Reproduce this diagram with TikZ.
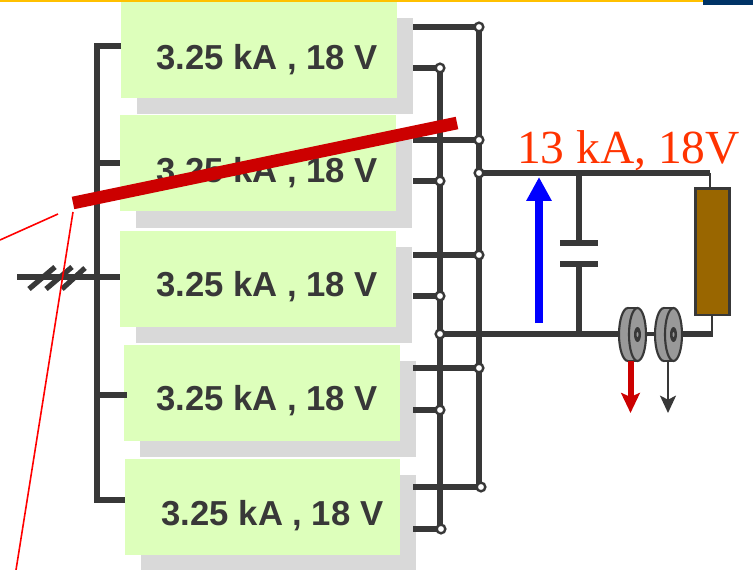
\documentclass[tikz,border=0pt]{standalone}
\usepackage{fontspec}
\setmainfont{Liberation Sans}
\newfontfamily\serifface{Liberation Serif}
\usetikzlibrary{arrows.meta,calc}
\definecolor{dark}{HTML}{383838}
\definecolor{cellgreen}{HTML}{DDFFBB}
\definecolor{shadowgrey}{HTML}{D9D9D9}
\definecolor{barred}{HTML}{CC0000}
\definecolor{brownr}{HTML}{996600}
\definecolor{discgrey}{HTML}{999999}
\definecolor{labelred}{HTML}{FF3300}
\definecolor{topamber}{HTML}{FFC000}
\definecolor{topnavy}{HTML}{003366}
\tikzset{
  x=0.75pt,y=-0.75pt,
  cellbox/.style={fill=cellgreen,draw=none,inner sep=0pt,minimum width=207pt,minimum height=72pt,anchor=north west},
  shadowbox/.style={fill=shadowgrey,draw=none,inner sep=0pt,minimum width=207pt,minimum height=72pt,anchor=north west},
  celltext/.style={font=\bfseries\fontsize{26}{30}\selectfont,text=dark,inner sep=0pt},
  wire/.style={draw=dark,line width=3.9pt,line cap=butt},
  thinwire/.style={draw=dark,line width=2pt},
  term/.style={circle,draw=dark,fill=white,line width=1.8pt,minimum size=6.5pt,inner sep=0pt},
  redthin/.style={draw=red,line width=1.2pt},
  disc/.style={draw=dark,fill=discgrey,line width=1.6pt},
}
\begin{document}
\begin{tikzpicture}
\useasboundingbox (0,0) rectangle (753,570);
\fill[fill=white] (0,0) rectangle (753,570);
\fill[fill=topamber] (0,0) rectangle (703,1.6);
\fill[fill=topnavy] (703,0) rectangle (753,5);
% shadows
\node[shadowbox] (s1) at (137,18) {};
\node[shadowbox] (s2) at (136,132) {};
\node[shadowbox] (s3) at (136,247) {};
\node[shadowbox] (s4) at (140,361) {};
\node[shadowbox,minimum width=206.25pt] (s5) at (141,475) {};
% cell boxes
\node[cellbox] (b1) at (121,2) {};
\node[cellbox] (b2) at (120,115) {};
\node[cellbox] (b3) at (120,231) {};
\node[cellbox] (b4) at (124,345) {};
\node[cellbox,minimum width=206.25pt] (b5) at (125,459) {};
\node[celltext] (t1) at (267,59.5) {3.25 kA , 18 V};
\node[celltext] (t2) at (267,172.5) {3.25 kA , 18 V};
\node[celltext] (t3) at (267,286.5) {3.25 kA , 18 V};
\node[celltext] (t4) at (267,400.5) {3.25 kA , 18 V};
\node[celltext] (t5) at (272.5,515.5) {3.25 kA , 18 V};
% coordinates
\coordinate (bt) at (97,46);
\coordinate (bb) at (97,500);
\coordinate (in) at (17,277);
\foreach \n/\y in {1/27,3/140,5/255,7/368,9/487} \coordinate (oa\n) at (413,\y);
\foreach \n/\y in {2/68,4/181,6/296,8/410,10/529} \coordinate (ob\n) at (413,\y);
% left bus
\draw[wire] (121,46) -- (bt) -- (bb) -- (125,500);
\draw[wire] (97,163) -- (120,163);
\draw[wire] (in) -- (120,277);
\draw[wire] (97,395) -- (127,395);
\draw[wire] (29,289) -- (55,267);
\draw[wire] (46,289) -- (72,267);
\draw[wire] (62,289) -- (85,268);
% right rails
\coordinate (A1) at (479,27);
\coordinate (A3) at (479,140);
\coordinate (A5) at (479,255);
\coordinate (A7) at (479,368);
\coordinate (A9) at (481,487);
\coordinate (P) at (479,173);
\coordinate (C2) at (440,68);
\coordinate (C4) at (440,181);
\coordinate (C6) at (440,296);
\coordinate (C8) at (440,410);
\coordinate (C10) at (441,529);
\coordinate (N) at (440,334);
\draw[wire] (A1) -- (A1 |- A9);
\draw[wire] (C2) -- (C2 |- C10);
\foreach \n in {1,3,5,7,9} \draw[wire] (oa\n) -- (A\n);
\foreach \n in {2,4,6,8,10} \draw[wire] (ob\n) -- (C\n);
% output side
\coordinate (rtop) at (710,173);
\node[draw=dark,fill=brownr,line width=2pt,inner sep=0pt,minimum width=25.5pt,minimum height=95pt,anchor=north west] (r) at (694,187) {};
\coordinate (capt) at (579,243);
\coordinate (capb) at (579,264);
\draw[wire] (P) -- (rtop);
\draw[thinwire] (rtop) -- (rtop |- r.north);
\draw[wire] (capt) -- (579,173);
\draw[wire] (capb) -- (579,334);
\draw[wire] (560,243) -- (598,243);
\draw[wire] (560,264) -- (598,264);
\draw[wire] (N) -- (619,334);
\draw[wire,line width=2.5pt] (646,334) -- (655,334);
\draw[wire] (682,334) -- (713,334);
\draw[thinwire] (712,334) -- (712,314);
% terminals
\node[term] (a1) at (A1) {};
\node[term] (a3) at (A3) {};
\node[term] (a5) at (A5) {};
\node[term] (a7) at (A7) {};
\node[term] (a9) at (A9) {};
\node[term] (p) at (P) {};
\node[term] (c2) at (C2) {};
\node[term] (c4) at (C4) {};
\node[term] (c6) at (C6) {};
\node[term] (c8) at (C8) {};
\node[term] (c10) at (C10) {};
\node[term] (n) at (N) {};
% blue arrow
\draw[blue,line width=6pt,-{Triangle[length=18pt,width=18pt]}] (539,323) -- (539,177);
% discs
\foreach \ax/\fx in {628/637.5,664/673.5}{
  \draw[disc] (\ax,334.5) ellipse[x radius=9,y radius=26.5];
  \fill[discgrey] (\ax,308) rectangle (\fx,361);
  \draw[dark,line width=1.6pt] (\ax,308) -- (\fx,308) (\ax,361) -- (\fx,361);
  \draw[disc] (\fx,334.5) ellipse[x radius=8.5,y radius=26.5];
  \fill[dark] (\fx,334.5) ellipse[x radius=3.5,y radius=7.5];
  \fill[discgrey] (\fx,334.5) ellipse[x radius=1,y radius=2.5];
}
\coordinate (d1b) at (630.5,361);
\coordinate (d2b) at (668,361);
\draw[barred,line width=4.5pt,-{Stealth[length=15pt,width=14pt,inset=3pt]}] (d1b) -- (630.5,413);
\draw[dark,line width=1.5pt,-{Stealth[length=13pt,width=12pt,inset=3pt]}] (d2b) -- (668,413);
% label
\node[font=\serifface\fontsize{35.6}{40}\selectfont,text=labelred,inner sep=0pt,anchor=base] (lbl) at (628.5,164) {13 kA, 18V};
% red bar
\draw[barred,line width=9.5pt] (73,203) -- (457,123);
\draw[redthin] (0,240) -- (58,214);
\draw[redthin] (73,212) -- (16,570);
\end{tikzpicture}
\end{document}
